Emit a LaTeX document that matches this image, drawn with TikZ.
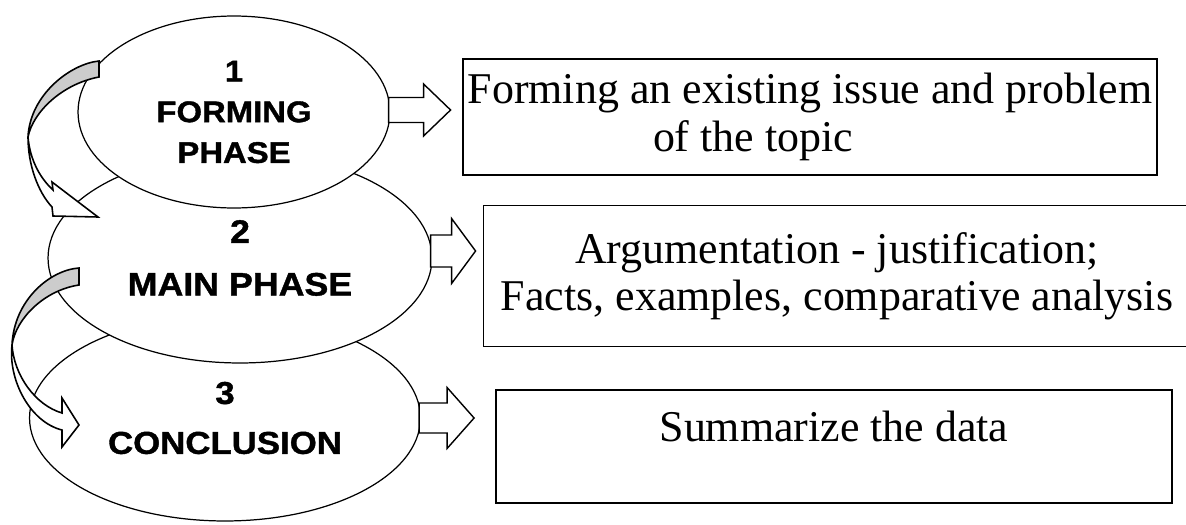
\documentclass[tikz,border=0pt]{standalone}
\usepackage{fontspec}
\setmainfont{Liberation Serif}
\newfontfamily\phasefont{Liberation Sans}[FakeStretch=1.1, BoldFeatures={FakeBold=1.2}]
\usetikzlibrary{shapes.geometric,calc}

\tikzset{
  phase/.style 2 args={draw, ellipse, fill=white, line width=0.7pt, inner sep=0pt,
    align=center, font=\phasefont\bfseries\fontsize{#1}{#2}\selectfont},
  topicbox/.style={draw, rectangle, line width=0.7pt, inner sep=0pt, align=center,
    font=\fontsize{25}{27}\selectfont},
  blockarrow/.style={draw, fill=white, line width=0.8pt, line join=miter},
  turnback/.style={draw, fill=black!20, line width=0.9pt},
  turnfront/.style={draw, fill=white, line width=0.9pt},
}

% 起點, 箭身半寬, 箭身長, 箭頭半寬, 箭頭長
\newcommand{\blockarrow}[5]{%
  \draw[blockarrow] ($(#1)+(0,-#2)$) -- ++(#3,0) -- ++(0,#2-#4) -- ++(#5,#4)
    -- ++(-#5,#4) -- ++(0,#2-#4) -- ++(-#3,0) -- cycle;}

\begin{document}
\begin{tikzpicture}[x=0.02cm, y=-0.02cm]
    \useasboundingbox (0,0) rectangle (1186,524);

    % 畫出橢圓
    \node[phase={18}{28.4}, minimum width=7.82cm, minimum height=4.12cm] (p3) at (225,418) {3\\CONCLUSION};
    \node[phase={18.5}{30}, minimum width=7.68cm, minimum height=4.2cm] (p2) at (240,258) {2\\MAIN PHASE};
    \node[phase={17}{23.2}, minimum width=6.24cm, minimum height=3.84cm] (p1) at (234,112) {1\\FORMING\\PHASE};

    % 畫出彎箭頭
    \draw[turnback] (99,61) .. controls (70,64) and (30,95) .. (28,137)
        .. controls (33,112) and (62,84) .. (99,77) -- cycle;
    \draw[turnfront] (28,137) .. controls (28,165) and (38,192) .. (52,207) -- (53,216) -- (98,217)
        -- (52,182) -- (53,190) .. controls (40,178) and (30,160) .. (28,137) -- cycle;
    \draw[turnback] (79,268) .. controls (50,270) and (14,300) .. (12,345)
        .. controls (16,318) and (45,290) .. (79,285) -- cycle;
    \draw[turnfront] (12,345) .. controls (8,380) and (30,422) .. (62,430) -- (62,447) -- (79,425)
        -- (62,398) -- (62,413) .. controls (35,405) and (14,375) .. (12,345) -- cycle;

    % 畫出方框
    \node[topicbox, minimum width=13.88cm, minimum height=2.32cm] (t1) at (810,117)
        {Forming an existing issue and problem\\of the topic\hspace*{2.28cm}};
    \node[topicbox, draw=none, minimum width=14.12cm, minimum height=2.8cm] (t2) at (837,276)
        {Argumentation - justification;\\Facts, examples, comparative analysis};
    \draw[line width=0.7pt] (t2.north east) -- (t2.north west) -- (t2.south west) -- (t2.south east);
    \node[topicbox, minimum width=13.52cm, minimum height=2.26cm, text depth=0.8cm] (t3) at (834,446.5)
        {Summarize the data};

    % 畫出箭頭
    \coordinate (a1) at ($(p1.east)+(-2,-2)$);
    \coordinate (a2) at ($(p2.east)+(-2,-7)$);
    \coordinate (a3) at ($(p3.east)+(-2,0)$);
    \blockarrow{a1}{12.5}{35}{26}{27}
    \blockarrow{a2}{16}{21}{32.5}{24}
    \blockarrow{a3}{15}{28}{30.5}{27}
\end{tikzpicture}
\end{document}
